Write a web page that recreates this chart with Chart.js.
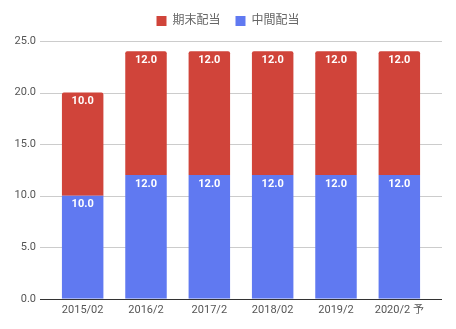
<!DOCTYPE html>
<html lang="ja">
<head>
    <meta charset="UTF-8">
    <title>配当推移</title>
    <script src="https://cdn.jsdelivr.net/npm/chart.js"></script>
    <style>
        html, body { margin: 0; padding: 0; background: #fff; }
        #wrap { width: 456px; height: 329px; }
    </style>
</head>
<body>
    <div id="wrap"><canvas id="myChart"></canvas></div>
    <script>
        // data
        const labels = ["2015/02", "2016/2", "2017/2", "2018/02", "2019/2", "2020/2 予"];
        const interim = [10, 12, 12, 12, 12, 12];   // 中間配当
        const yearEnd = [10, 12, 12, 12, 12, 12];   // 期末配当
        const yTicks = [0, 5, 10, 15, 20, 25];

        const font = "Roboto, 'Noto Sans CJK JP', sans-serif";

        // a bit more room under the legend
        const legendGap = {
            id: 'legendGap',
            beforeInit(chart) {
                const fit = chart.legend.fit;
                chart.legend.fit = function () {
                    fit.call(this);
                    this.height += 4;
                };
            }
        };

        // grid lines wider than the plot area, like the original
        const gridLines = {
            id: 'gridLines',
            beforeDatasetsDraw(chart) {
                const y = chart.scales.y;
                const ctx = chart.ctx;
                ctx.save();
                y.ticks.forEach(t => {
                    const py = Math.round(y.getPixelForValue(t.value)) + 0.5;
                    ctx.strokeStyle = '#ccc';
                    ctx.lineWidth = 1;
                    ctx.beginPath();
                    ctx.moveTo(40, py);
                    ctx.lineTo(442, py);
                    ctx.stroke();
                });
                ctx.restore();
            },
            afterDatasetsDraw(chart) {
                const y = chart.scales.y;
                const ctx = chart.ctx;
                const py = Math.round(y.getPixelForValue(0)) + 0.5;
                ctx.save();
                ctx.strokeStyle = '#333';
                ctx.beginPath();
                ctx.moveTo(40, py);
                ctx.lineTo(442, py);
                ctx.stroke();
                ctx.restore();
            }
        };

        // value labels inside top of each segment
        const barLabels = {
            id: 'barLabels',
            afterDatasetsDraw(chart) {
                const ctx = chart.ctx;
                ctx.save();
                ctx.font = "bold 11px " + font;
                ctx.fillStyle = '#fff';
                ctx.textAlign = 'center';
                ctx.textBaseline = 'middle';
                chart.data.datasets.forEach((ds, i) => {
                    chart.getDatasetMeta(i).data.forEach((bar, j) => {
                        ctx.fillText(ds.data[j].toFixed(1), bar.x, bar.y + 9);
                    });
                });
                ctx.restore();
            }
        };

        new Chart(document.getElementById('myChart'), {
            type: 'bar',
            data: {
                labels: labels,
                datasets: [
                    {
                        label: "中間配当",
                        data: interim,
                        backgroundColor: '#6079f1',
                        barPercentage: 0.655,
                        categoryPercentage: 1
                    },
                    {
                        label: "期末配当",
                        data: yearEnd,
                        backgroundColor: '#d0443a',
                        borderRadius: { topLeft: 2, topRight: 2 },
                        borderSkipped: 'bottom',
                        barPercentage: 0.655,
                        categoryPercentage: 1
                    }
                ]
            },
            options: {
                responsive: true,
                maintainAspectRatio: false,
                animation: false,
                layout: { padding: { top: 0, right: 0, left: 0, bottom: 7 } },
                plugins: {
                    legend: {
                        reverse: true,
                        labels: {
                            boxWidth: 10,
                            boxHeight: 10,
                            padding: 15,
                            color: '#666',
                            font: { family: font, size: 12 }
                        }
                    },
                    tooltip: { enabled: false }
                },
                scales: {
                    x: {
                        stacked: true,
                        grid: { display: false, drawTicks: false },
                        border: { display: false },
                        ticks: {
                            color: '#555',
                            padding: 5,
                            maxRotation: 0,
                            font: { family: font, size: 11 }
                        }
                    },
                    y: {
                        stacked: true,
                        min: 0,
                        max: 25,
                        afterFit(scale) { scale.width = 51; },
                        afterBuildTicks(scale) {
                            scale.ticks = yTicks.map(v => ({ value: v }));
                        },
                        grid: { display: false, drawTicks: false },
                        border: { display: false },
                        ticks: {
                            color: '#555',
                            padding: 15,
                            font: { family: font, size: 11 },
                            callback: v => v.toFixed(1)
                        }
                    },
                    // empty right margin so the legend stays centred on the page
                    yRight: {
                        position: 'right',
                        display: true,
                        afterFit(scale) { scale.width = 25; },
                        grid: { display: false, drawTicks: false },
                        border: { display: false },
                        ticks: { display: false }
                    }
                }
            },
            plugins: [legendGap, gridLines, barLabels]
        });
    </script>
</body>
</html>
